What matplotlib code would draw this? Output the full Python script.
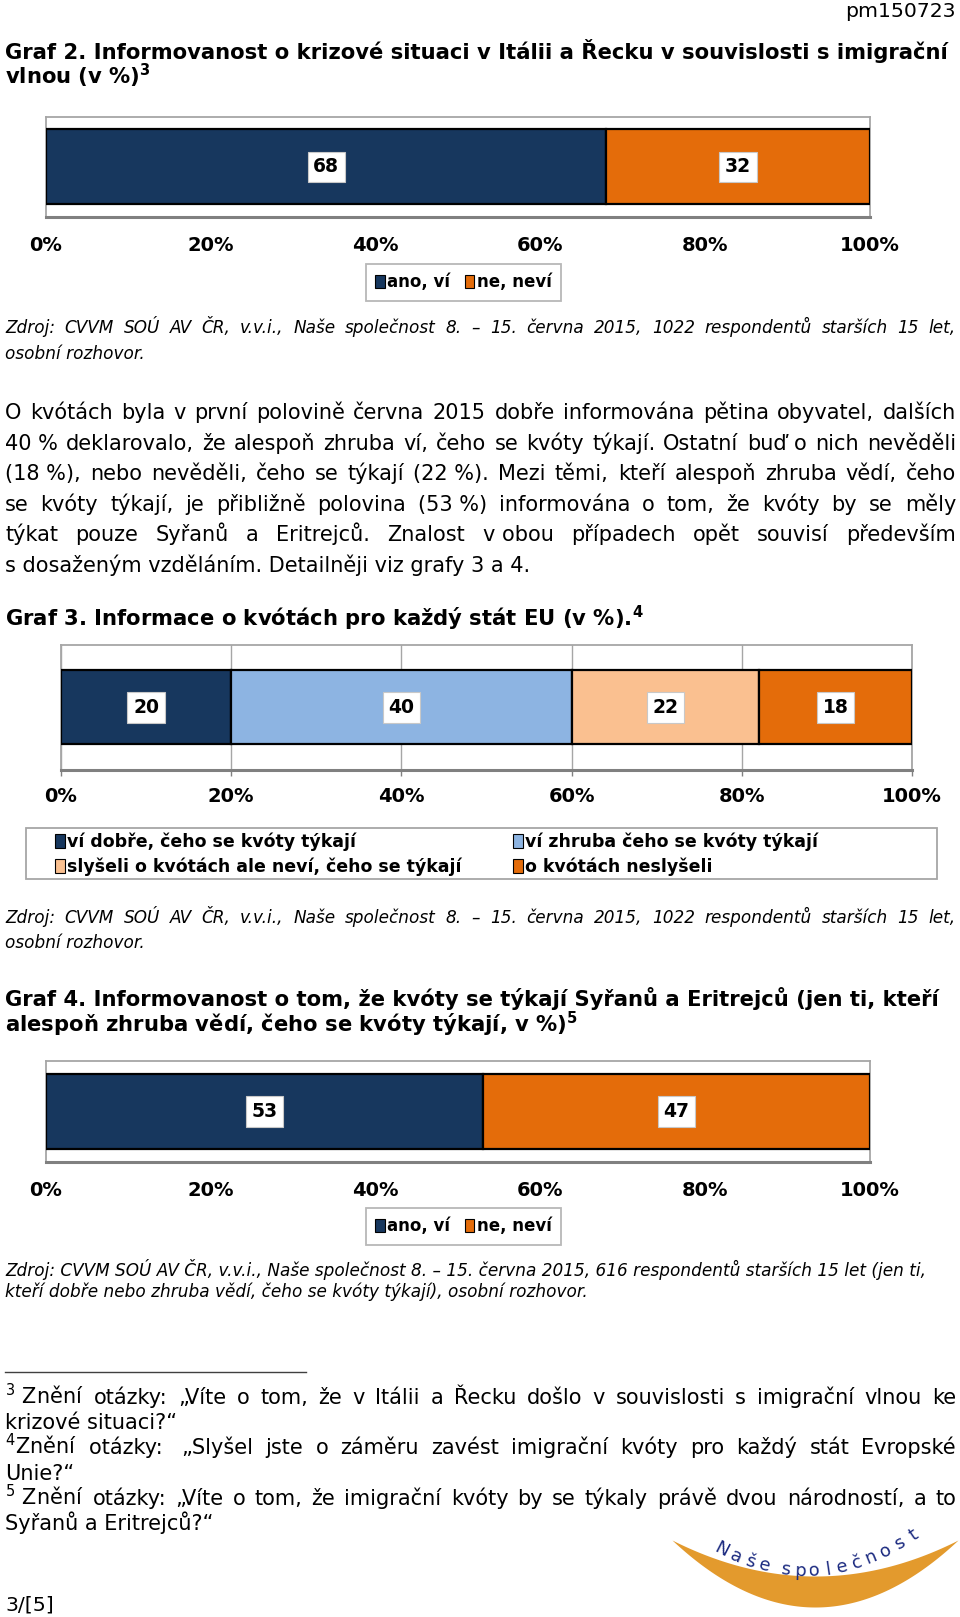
import numpy as np
import matplotlib
matplotlib.use('Agg')
import matplotlib.pyplot as plt
from matplotlib.patches import Patch, Rectangle

# page size in pixels (dpi 100)
W, H = 960, 1617
plt.rcParams['font.family'] = 'DejaVu Sans'
plt.rcParams['mathtext.fontset'] = 'dejavusans'

NAVY = '#17375E'
ORANGE = '#E46C0A'
LBLUE = '#8DB4E2'
PEACH = '#FAC090'

# ---- data ----
g2_labels = ['ano, ví', 'ne, neví']
g2_values = [68, 32]

g3_labels = ['ví dobře, čeho se kvóty týkají',
             'ví zhruba čeho se kvóty týkají',
             'slyšeli o kvótách ale neví, čeho se týkají',
             'o kvótách neslyšeli']
g3_values = [20, 40, 22, 18]

g4_labels = ['ano, ví', 'ne, neví']
g4_values = [53, 47]

pct_ticks = [0, 20, 40, 60, 80, 100]
pct_labels = ['0%', '20%', '40%', '60%', '80%', '100%']

# ---- page texts ----
paragraph = [
    'O kvótách byla v první polovině června 2015 dobře informována pětina obyvatel, dalších',
    '40\u00a0% deklarovalo, že alespoň zhruba ví, čeho se kvóty týkají. Ostatní buď o nich nevěděli',
    '(18\u00a0%), nebo nevěděli, čeho se týkají (22\u00a0%). Mezi těmi, kteří alespoň zhruba vědí, čeho',
    'se kvóty týkají, je přibližně polovina (53\u00a0%) informována o tom, že kvóty by se měly',
    'týkat pouze Syřanů a Eritrejců. Znalost v\u00a0obou případech opět souvisí především',
    's\u00a0dosaženým vzděláním. Detailněji viz grafy 3 a 4.',
]
source_1022 = ['Zdroj: CVVM SOÚ AV ČR, v.v.i., Naše společnost 8. – 15. června 2015, 1022 respondentů starších 15 let,',
               'osobní rozhovor.']
source_616 = ['Zdroj: CVVM SOÚ AV ČR, v.v.i., Naše společnost 8. – 15. června 2015, 616 respondentů starších 15 let (jen ti,',
              'kteří dobře nebo zhruba vědí, čeho se kvóty týkají), osobní rozhovor.']
footnotes = [
    ('$^{3}$\u00a0Znění otázky: „Víte o tom, že v Itálii a Řecku došlo v souvislosti s imigrační vlnou ke', True),
    ('krizové situaci?“', False),
    ('$^{4}$Znění otázky:\u00a0 „Slyšel jste o záměru zavést imigrační kvóty pro každý stát Evropské', True),
    ('Unie?“', False),
    ('$^{5}$\u00a0Znění otázky: „Víte o tom, že imigrační kvóty by se týkaly právě dvou národností, a to', True),
    ('Syřanů a Eritrejců?“', False),
]

fig = plt.figure(figsize=(W / 100, H / 100), dpi=100)
page = fig.add_axes([0, 0, 1, 1])
page.set_xlim(0, W)
page.set_ylim(H, 0)
page.axis('off')
renderer = fig.canvas.get_renderer()

LEFT, RIGHT = 5, 956


def put_line(y, s, size, weight='normal', style='normal', justify=False, x=LEFT, ha='left'):
    kw = dict(fontsize=size, fontweight=weight, fontstyle=style, va='baseline')
    words = s.split(' ')
    if not justify or len(words) < 2:
        page.text(x, y, s, ha=ha, **kw)
        return
    arts = [page.text(x, y, w, **kw) for w in words]
    widths = [a.get_window_extent(renderer).width for a in arts]
    gap = (RIGHT - x - sum(widths)) / (len(words) - 1)
    pos = x
    for a, w in zip(arts, widths):
        a.set_x(pos)
        pos += w + gap


def stacked_bar(box, bar_px, values, colors, grid=False, tick_len=0, pad=10):
    x0, y0, x1, y1 = box
    ax = fig.add_axes([x0 / W, 1 - y1 / H, (x1 - x0) / W, (y1 - y0) / H])
    lefts = np.concatenate([[0], np.cumsum(values)[:-1]])
    bh = (bar_px[1] - bar_px[0]) / (y1 - y0)
    ax.barh(0, values, left=lefts, height=bh, color=colors,
            edgecolor='black', linewidth=1.6, zorder=3)
    for l, v in zip(lefts, values):
        ax.text(l + v / 2, 0, str(v), ha='center', va='center', fontsize=13.5,
                fontweight='bold', zorder=4,
                bbox=dict(boxstyle='square,pad=0.3', fc='white', ec='#C8C8C8', lw=0.8))
    ax.set_xlim(0, 100)
    ax.set_ylim(-0.5, 0.5)
    ax.set_yticks([])
    ax.set_xticks(pct_ticks)
    ax.set_xticklabels(pct_labels, fontsize=14, fontweight='bold')
    ax.tick_params(axis='x', length=tick_len, pad=pad, color='#808080', width=1)
    for s in ['top', 'left', 'right']:
        ax.spines[s].set_color('#A6A6A6')
        ax.spines[s].set_linewidth(1.3)
    ax.spines['bottom'].set_color('#808080')
    ax.spines['bottom'].set_linewidth(2.2)
    if grid:
        ax.xaxis.grid(True, color='#A6A6A6', linewidth=1, zorder=0)
        ax.set_axisbelow(True)
    return ax


def legend_row(labels, colors, cx, cy):
    handles = [Patch(facecolor=c, edgecolor='black', linewidth=0.8) for c in colors]
    leg = fig.legend(handles, labels, loc='center', bbox_to_anchor=(cx / W, 1 - cy / H),
                     ncol=2, prop={'weight': 'bold', 'size': 12}, frameon=True,
                     fancybox=False, edgecolor='#A6A6A6', handlelength=0.55,
                     handleheight=0.85, handletextpad=0.15, columnspacing=0.9,
                     borderpad=0.55)
    leg.get_frame().set_linewidth(1.3)
    return leg


# ---- header ----
put_line(17, 'pm150723', 14.7, x=RIGHT, ha='right')
put_line(59, 'Graf 2. Informovanost o krizové situaci v Itálii a Řecku v souvislosti s imigrační', 15.2, weight='bold')
put_line(84, r'vlnou (v %)$^{\mathbf{3}}$', 15.2, weight='bold')

# ---- Graf 2 ----
stacked_bar((46, 117, 870, 217), (129, 204), g2_values, [NAVY, ORANGE], pad=14)
legend_row(g2_labels, [NAVY, ORANGE], 463.5, 282.5)
put_line(333, source_1022[0], 12.2, style='italic', justify=True)
put_line(359, source_1022[1], 12.2, style='italic')

# ---- paragraph ----
for i, s in enumerate(paragraph):
    put_line(419 + i * 30.5, s, 15, justify=(i < len(paragraph) - 1))

# ---- Graf 3 ----
put_line(626, r'Graf 3. Informace o kvótách pro každý stát EU (v %).$^{\mathbf{4}}$', 15.2, weight='bold')
stacked_bar((61, 645, 912, 770), (670, 744), g3_values, [NAVY, LBLUE, PEACH, ORANGE],
            grid=True, tick_len=4, pad=8)
page.add_patch(Rectangle((26, 828), 911, 51, fill=False, ec='#A6A6A6', lw=1.3))
g3_colors = [NAVY, LBLUE, PEACH, ORANGE]
for col, xl in enumerate([55, 513]):
    idx = [col, col + 2]
    hs = [Patch(facecolor=g3_colors[k], edgecolor='black', linewidth=0.8) for k in idx]
    fig.legend(hs, [g3_labels[k] for k in idx], loc='center left',
               bbox_to_anchor=(xl / W, 1 - 854.5 / H), ncol=1,
               prop={'weight': 'bold', 'size': 12.5}, frameon=False, borderpad=0,
               borderaxespad=0, handlelength=0.55, handleheight=0.85,
               handletextpad=0.15, labelspacing=0.38)
put_line(923, source_1022[0], 12.2, style='italic', justify=True)
put_line(948, source_1022[1], 12.2, style='italic')

# ---- Graf 4 ----
put_line(1006, 'Graf 4. Informovanost o tom, že kvóty se týkají Syřanů a Eritrejců (jen ti, kteří', 15.2, weight='bold')
put_line(1032, r'alespoň zhruba vědí, čeho se kvóty týkají, v %)$^{\mathbf{5}}$', 15.2, weight='bold')
stacked_bar((46, 1061, 870, 1162), (1073, 1148), g4_values, [NAVY, ORANGE], pad=14)
legend_row(g4_labels, [NAVY, ORANGE], 463.5, 1226.5)
put_line(1276, source_616[0], 12.2, style='italic')
put_line(1297, source_616[1], 12.2, style='italic')

# ---- footnotes ----
page.plot([LEFT, 306], [1372, 1372], color='#404040', lw=1)
for i, (s, just) in enumerate(footnotes):
    put_line(1404 + i * 25.2, s, 15, justify=just)
put_line(1610, '3/[5]', 14.7)

# ---- logo "Naše společnost" ----
t = np.linspace(0, 1, 200)
lx = 672 + 286 * t
bump = 4 * t * (1 - t)
top = 1540 + 36 * bump
bottom = 1540 + 67 * bump
page.fill_between(lx, top, bottom, color='#E39A2D', lw=0)
logo_text = 'Naše společnost'
px = 722
for ch in logo_text:
    if ch != ' ':
        py = 1571 - 0.0031 * (px - 805) ** 2
        ang = np.degrees(np.arctan(2 * 0.0031 * (px - 805)))
        page.text(px, py, ch, fontsize=13, color='#1B2A80', ha='center', va='center',
                  rotation=ang, rotation_mode='anchor')
        px += 14.2
    else:
        px += 7

fig.savefig('out.png', dpi=100)
